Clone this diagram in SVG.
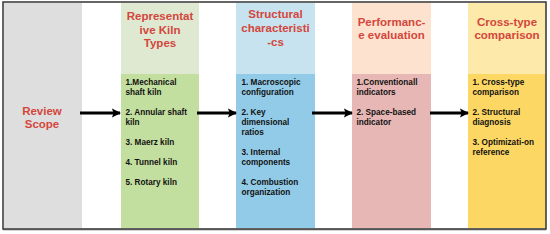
<svg xmlns="http://www.w3.org/2000/svg" width="550" height="234" viewBox="0 0 550 234">
<defs>
<style>
.h{font-family:"Liberation Sans",Arial,sans-serif;font-weight:bold;font-size:11.5px;fill:#d4463c;text-anchor:middle}
.b{font-family:"Liberation Sans",Arial,sans-serif;font-weight:bold;font-size:8.2px;fill:#111}
.c{stroke:#000;stroke-width:3;fill:none}
</style>
<marker id="ah" viewBox="0 0 10 10" refX="9" refY="5" markerWidth="3" markerHeight="3.2" orient="auto" markerUnits="strokeWidth">
<path d="M0,0 L10,5 L0,10 L2,5 Z" fill="#000"/>
</marker>
</defs>
<rect x="0" y="0" width="550" height="234" fill="#fff"/>
<g id="review">
<rect x="4" y="3" width="78" height="225" fill="#dedede"/>
<text class="h" x="42" y="115">Review</text>
<text class="h" x="42" y="128">Scope</text>
</g>
<g id="kiln-types">
<rect x="121" y="3" width="78" height="71" fill="#dfe9d2"/>
<rect x="121" y="74" width="78" height="154" fill="#c3df9f"/>
<text class="h" x="160" y="20">Representat</text>
<text class="h" x="160" y="33.5">ive Kiln</text>
<text class="h" x="160" y="47">Types</text>
<text class="b" x="125.5" y="85">1.Mechanical</text>
<text class="b" x="125.5" y="95">shaft kiln</text>
<text class="b" x="125.5" y="115">2. Annular shaft</text>
<text class="b" x="125.5" y="125">kiln</text>
<text class="b" x="125.5" y="145">3. Maerz kiln</text>
<text class="b" x="125.5" y="165">4. Tunnel kiln</text>
<text class="b" x="125.5" y="185">5. Rotary kiln</text>
</g>
<g id="structural">
<rect x="236" y="3" width="79" height="71" fill="#c6e3ef"/>
<rect x="236" y="74" width="79" height="154" fill="#92cbe8"/>
<text class="h" x="275.5" y="18">Structural</text>
<text class="h" x="275.5" y="32">characteristi</text>
<text class="h" x="275.5" y="46">-cs</text>
<text class="b" x="241.5" y="85">1. Macroscopic</text>
<text class="b" x="241.5" y="95">configuration</text>
<text class="b" x="241.5" y="115">2. Key</text>
<text class="b" x="241.5" y="125">dimensional</text>
<text class="b" x="241.5" y="135">ratios</text>
<text class="b" x="241.5" y="155">3. Internal</text>
<text class="b" x="241.5" y="165">components</text>
<text class="b" x="241.5" y="185">4. Combustion</text>
<text class="b" x="241.5" y="195">organization</text>
</g>
<g id="performance">
<rect x="352" y="3" width="79" height="71" fill="#fde3cf"/>
<rect x="352" y="74" width="79" height="154" fill="#e6b7b4"/>
<text class="h" x="391.5" y="26">Performanc-</text>
<text class="h" x="391.5" y="38.5">e evaluation</text>
<text class="b" x="356.5" y="85">1.Conventionall</text>
<text class="b" x="356.5" y="95">indicators</text>
<text class="b" x="356.5" y="115">2. Space-based</text>
<text class="b" x="356.5" y="125">indicator</text>
</g>
<g id="comparison">
<rect x="468" y="3" width="78" height="71" fill="#fde9a9"/>
<rect x="468" y="74" width="78" height="154" fill="#fdd764"/>
<text class="h" x="507" y="25.5">Cross-type</text>
<text class="h" x="507" y="38.5">comparison</text>
<text class="b" x="472.5" y="85">1. Cross-type</text>
<text class="b" x="472.5" y="95">comparison</text>
<text class="b" x="472.5" y="115">2. Structural</text>
<text class="b" x="472.5" y="125">diagnosis</text>
<text class="b" x="472.5" y="145">3. Optimizati-on</text>
<text class="b" x="472.5" y="155">reference</text>
</g>
<g id="connectors">
<line class="c" x1="80" y1="113" x2="120" y2="113" marker-end="url(#ah)"/>
<line class="c" x1="197" y1="113" x2="236" y2="113" marker-end="url(#ah)"/>
<line class="c" x1="312" y1="113" x2="352" y2="113" marker-end="url(#ah)"/>
<line class="c" x1="430" y1="113" x2="468" y2="113" marker-end="url(#ah)"/>
</g>
<rect x="3" y="2" width="543" height="227" fill="none" stroke="#333" stroke-width="1.5"/>
<line x1="3" y1="229.5" x2="546" y2="229.5" stroke="#555" stroke-width="1.5"/>
</svg>
